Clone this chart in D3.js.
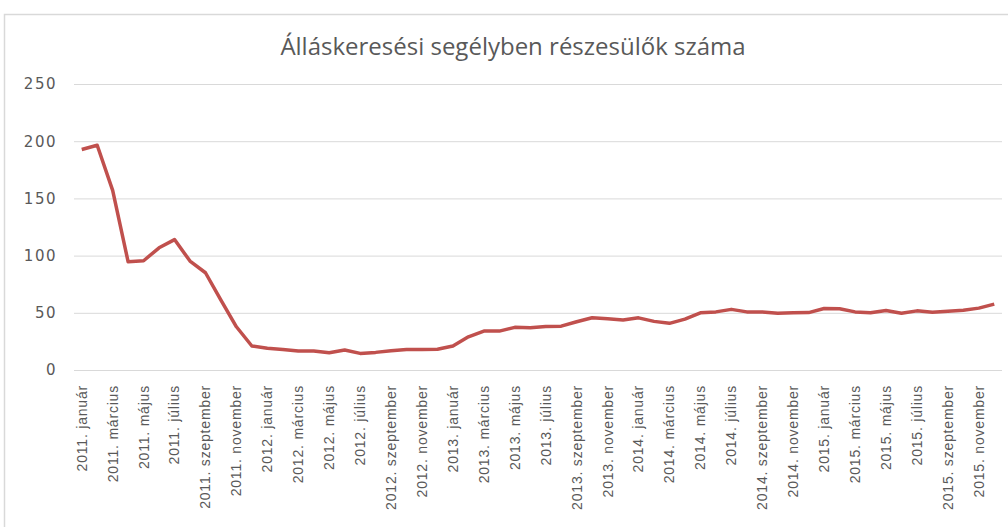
<!DOCTYPE html>
<html>
<head>
<meta charset="utf-8">
<script src="https://cdn.jsdelivr.net/npm/d3@7"></script>
<style>
  html, body { margin: 0; padding: 0; background: #fff; }
  svg { display: block; }
</style>
</head>
<body>
<svg id="chart" width="1008" height="527"></svg>
<script>
var years = [2011, 2012, 2013, 2014, 2015]
var months = ['január', 'február', 'március', 'április', 'május', 'június',
  'július', 'augusztus', 'szeptember', 'október', 'november', 'december']
var yTicks = [0, 50, 100, 150, 200, 250]

// ezer fő, havonta
var values2011 = [192.7, 196.5, 157, 94.6, 95.5, 106.8, 114, 95.2, 85, 61, 37.8, 21]
var values2012 = [19, 18, 16.6, 16.6, 15.1, 17.5, 14.5, 15.4, 16.8, 18, 18, 18.2]
var values2013 = [21, 29, 34, 34, 37.3, 37, 38.1, 38.3, 42.2, 45.7, 44.8, 43.8]
var values2014 = [45.6, 42.5, 40.8, 44.5, 50, 50.8, 53, 50.8, 50.8, 49.6, 50, 50.2]
var values2015 = [53.8, 53.5, 50.8, 50, 52, 49.6, 51.7, 50.5, 51.4, 52.3, 54.1, 57.6]

var allValues = [values2011, values2012, values2013, values2014, values2015]
var data = []
years.forEach(function(y, i) {
  months.forEach(function(m, j) {
    data.push({ label: y + '. ' + m, value: allValues[i][j] })
  })
})

var svg = d3.select('#chart')

// frame
svg.append('rect')
  .attr('x', 4.5).attr('y', 14.5)
  .attr('width', 1010).attr('height', 530)
  .attr('fill', 'none')
  .attr('stroke', '#d9d9d9')
  .attr('stroke-width', 1.5)

var x = d3.scaleBand()
  .domain(data.map(function(d) { return d.label }))
  .range([74, 1002])

var y = d3.scaleLinear()
  .domain([0, 250])
  .range([370, 84])

// title
svg.append('text')
  .attr('x', 513).attr('y', 55)
  .attr('text-anchor', 'middle')
  .attr('font-family', 'Open Sans, sans-serif')
  .attr('font-size', 24)
  .attr('fill', '#595959')
  .text('Álláskeresési segélyben részesülők száma')

// gridlines + y labels
var yAxis = d3.axisLeft(y)
  .tickValues(yTicks)
  .tickSize(-(1002 - 74))
  .tickPadding(17)

var gy = svg.append('g')
  .attr('transform', 'translate(74,0)')
  .call(yAxis)
gy.select('.domain').remove()
gy.selectAll('.tick line').attr('stroke', '#d9d9d9').attr('stroke-width', 1)
gy.selectAll('.tick text')
  .attr('font-family', 'DejaVu Sans, sans-serif')
  .attr('font-size', 15)
  .attr('letter-spacing', 1.5)
  .attr('fill', '#595959')

// x labels, every second month
var xAxis = d3.axisBottom(x)
  .tickValues(x.domain().filter(function(d, i) { return i % 2 === 0 }))
  .tickSize(0)
  .tickPadding(0)

var gx = svg.append('g')
  .attr('transform', 'translate(0,370)')
  .call(xAxis)
gx.select('.domain').remove()
gx.selectAll('.tick text')
  .attr('font-family', 'Liberation Sans, sans-serif')
  .attr('font-size', 14)
  .attr('letter-spacing', 0.8)
  .attr('fill', '#595959')
  .attr('text-anchor', 'end')
  .attr('dy', '0.35em')
  .attr('transform', 'translate(0,15) rotate(-90)')
  .attr('x', 0).attr('y', 0)

// line
var line = d3.line()
  .x(function(d) { return x(d.label) + x.bandwidth() / 2 })
  .y(function(d) { return y(d.value) })

svg.append('path')
  .datum(data)
  .attr('fill', 'none')
  .attr('stroke', '#c0504d')
  .attr('stroke-width', 3.5)
  .attr('stroke-linejoin', 'round')
  .attr('d', line)
</script>
</body>
</html>
